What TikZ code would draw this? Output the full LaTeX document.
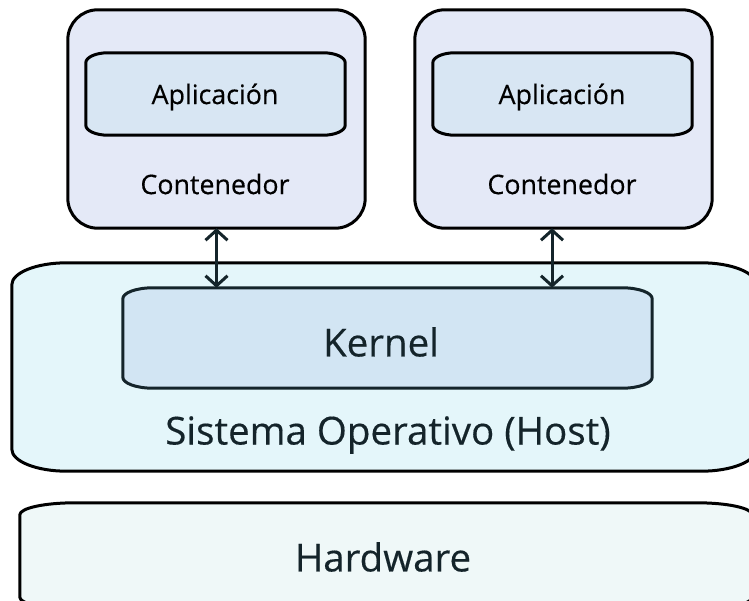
\documentclass[tikz,border=0pt]{standalone}
\usepackage{fontspec}
\setmainfont{Open Sans}[FakeBold=0.35]
\usetikzlibrary{calc,arrows.meta,backgrounds}

\definecolor{contfill}{HTML}{E4E9F7}
\definecolor{appfill}{HTML}{D8E6F3}
\definecolor{osfill}{HTML}{E4F6FA}
\definecolor{kernfill}{HTML}{D2E5F3}
\definecolor{hwfill}{HTML}{EFF8F8}
\definecolor{inkdark}{HTML}{14242A}

% Outline with elliptical corners around a node: style, node, x radius, y radius
\newcommand\eframe[4]{%
  \path[#1] ($(#2.north west)+(#3,0pt)$) -- ($(#2.north east)+(-#3,0pt)$)
    arc[start angle=90,end angle=0,x radius=#3,y radius=#4]
    -- ($(#2.south east)+(0pt,#4)$)
    arc[start angle=0,end angle=-90,x radius=#3,y radius=#4]
    -- ($(#2.south west)+(#3,0pt)$)
    arc[start angle=270,end angle=180,x radius=#3,y radius=#4]
    -- ($(#2.north west)+(0pt,-#4)$)
    arc[start angle=180,end angle=90,x radius=#3,y radius=#4]
    -- cycle;}

\tikzset{
  area/.style={rectangle,inner sep=0pt,minimum width=#1},
  small/.style={font=\fontsize{26.8}{31}\selectfont,text=black},
  big/.style={font=\fontsize{38.5}{44}\selectfont,text=inkdark},
  frame/.style={line width=3pt,line join=round},
  link/.style={line width=3pt,draw=inkdark,
    {Straight Barb[length=10pt,width=22pt]}-{Straight Barb[length=10pt,width=22pt]}},
}

\begin{document}
\begin{tikzpicture}[x=1pt,y=-1pt]
\useasboundingbox (0,0) rectangle (749,601);

% containers with their applications
\node[area=297pt,minimum height=218pt] (c1) at (216.5,119) {};
\node[area=297pt,minimum height=218pt] (c2) at (563.5,119) {};
\node[area=259pt,minimum height=82pt] (app1) at (215.5,94) {};
\node[area=259pt,minimum height=82pt] (app2) at (562.5,94) {};
\node[small] (app1lab) at (215,97) {Aplicación};
\node[small] (app2lab) at (562,97) {Aplicación};
\node[small] (lab1) at (215,184) {Contenedor};
\node[small] (lab2) at (562,184) {Contenedor};

% host operating system and kernel
\node[area=744pt,minimum height=208pt] (os) at (384,367) {};
\node[area=529pt,minimum height=100pt] (kern) at (387.5,338) {};
\node[big] (kernlab) at (381,342) {Kernel};
\node[big] (oslab) at (388,435) {Sistema Operativo (Host)};

% hardware layer
\node[area=732pt,minimum height=106pt] (hw) at (386,556) {};
\node[big] (hwlab) at (383,557) {Hardware};

\begin{scope}[on background layer]
  \eframe{frame,draw=black,fill=contfill}{c1}{30pt}{30pt}
  \eframe{frame,draw=black,fill=contfill}{c2}{30pt}{30pt}
  \eframe{frame,draw=black,fill=appfill}{app1}{22pt}{10pt}
  \eframe{frame,draw=black,fill=appfill}{app2}{22pt}{10pt}
  \eframe{frame,draw=black,fill=osfill}{os}{55pt}{22pt}
  \eframe{frame,draw=inkdark,fill=kernfill}{kern}{30pt}{11pt}
  \eframe{frame,draw=black,fill=hwfill}{hw}{55pt}{12pt}
\end{scope}

% links between containers and kernel
\draw[link] (c1.south) -- (c1.south |- kern.north);
\coordinate (p2) at ($(c2.south)+(-11.5pt,0pt)$);
\draw[link] (p2) -- (p2 |- kern.north);
\end{tikzpicture}
\end{document}
